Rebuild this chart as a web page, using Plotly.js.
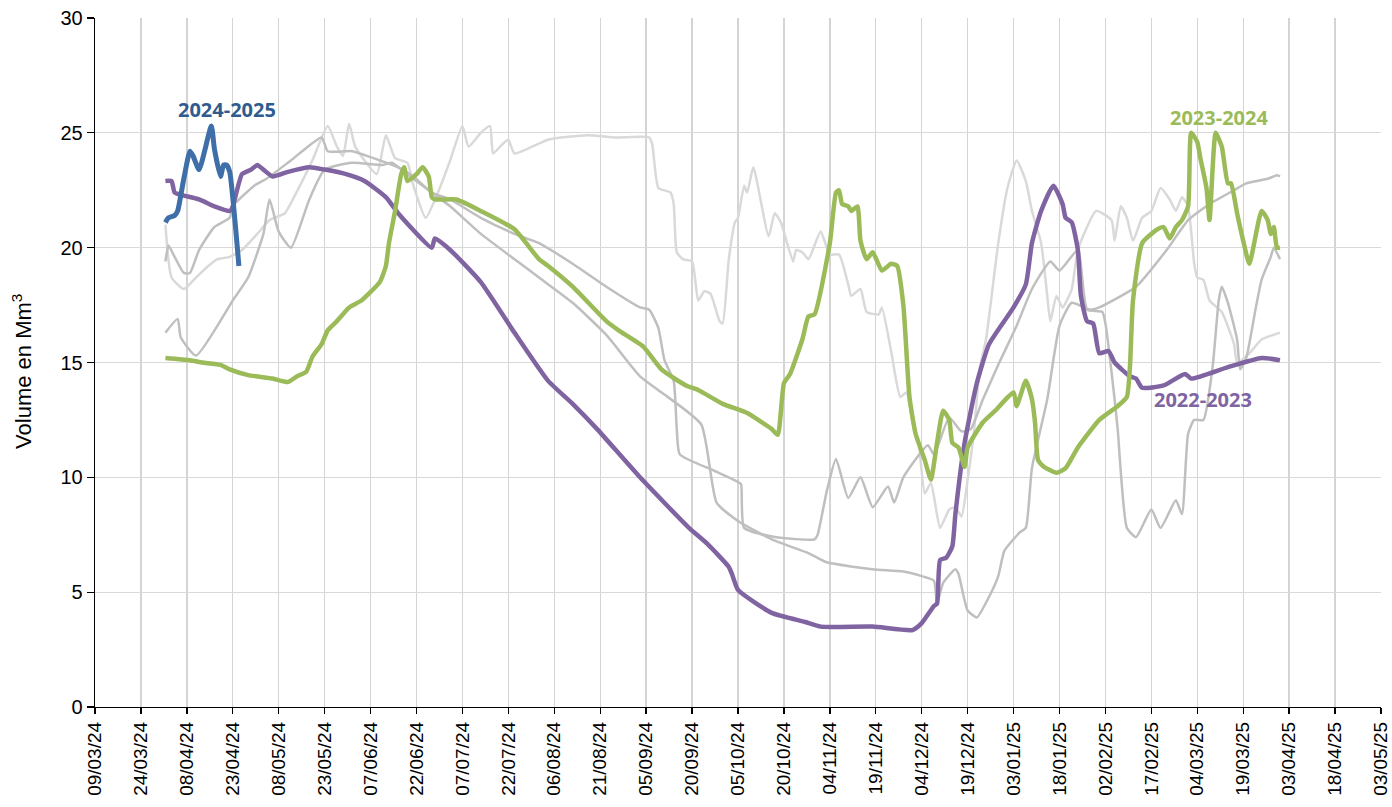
<!DOCTYPE html>
<html>
<head>
<meta charset="utf-8">
<script src="https://cdn.plot.ly/plotly-3.0.1.min.js"></script>
<style>html,body{margin:0;padding:0;background:#fff;}#chart{width:1392px;height:807px;}</style>
</head>
<body>
<div id="chart"></div>
<script>
// ---- Data (volume in Mm3) ----
const s2425_x = ['2024-04-01','2024-04-02','2024-04-04','2024-04-05','2024-04-07','2024-04-09','2024-04-10','2024-04-12','2024-04-16','2024-04-17','2024-04-19','2024-04-20','2024-04-21','2024-04-22','2024-04-25'];
const s2425_y = [21.1,21.3,21.4,21.6,23.0,24.2,24.0,23.4,25.3,24.3,23.1,23.6,23.6,23.3,19.2];

const s2324_x = ['2024-04-01','2024-04-09','2024-04-13','2024-04-19','2024-04-22','2024-04-28','2024-05-06','2024-05-11','2024-05-14','2024-05-17','2024-05-19','2024-05-22','2024-05-24','2024-05-27','2024-05-31','2024-06-04','2024-06-10','2024-06-12','2024-06-13','2024-06-15','2024-06-17','2024-06-18','2024-06-19','2024-06-22','2024-06-24','2024-06-26','2024-06-27','2024-06-28','2024-07-05','2024-07-13','2024-07-24','2024-08-01','2024-08-04','2024-08-12','2024-08-23','2024-08-27','2024-09-04','2024-09-10','2024-09-18','2024-09-22','2024-09-30','2024-10-08','2024-10-16','2024-10-18','2024-10-20','2024-10-22','2024-10-26','2024-10-28','2024-10-30','2024-11-04','2024-11-06','2024-11-07','2024-11-08','2024-11-10','2024-11-11','2024-11-13','2024-11-14','2024-11-16','2024-11-18','2024-11-21','2024-11-24','2024-11-26','2024-11-28','2024-11-30','2024-12-02','2024-12-05','2024-12-07','2024-12-09','2024-12-11','2024-12-13','2024-12-14','2024-12-16','2024-12-18','2024-12-19','2024-12-24','2024-12-28','2025-01-03','2025-01-04','2025-01-07','2025-01-09','2025-01-10','2025-01-11','2025-01-13','2025-01-17','2025-01-20','2025-01-24','2025-01-31','2025-02-06','2025-02-09','2025-02-10','2025-02-11','2025-02-14','2025-02-19','2025-02-21','2025-02-23','2025-02-25','2025-02-27','2025-03-01','2025-03-02','2025-03-04','2025-03-05','2025-03-07','2025-03-08','2025-03-10','2025-03-12','2025-03-14','2025-03-15','2025-03-17','2025-03-19','2025-03-21','2025-03-25','2025-03-27','2025-03-28','2025-03-29','2025-03-30','2025-03-31'];
const s2324_y = [15.2,15.1,15.0,14.9,14.7,14.45,14.3,14.15,14.4,14.6,15.25,15.8,16.4,16.8,17.4,17.7,18.5,19.2,20.2,21.6,23.2,23.5,22.9,23.2,23.5,23.1,22.2,22.1,22.1,21.6,20.8,19.5,19.2,18.3,16.8,16.4,15.7,14.7,14.0,13.8,13.2,12.8,12.1,11.85,14.1,14.5,16.0,17.0,17.1,20.2,22.4,22.5,21.9,21.8,21.6,21.8,20.3,19.5,19.8,19.0,19.3,19.2,17.5,13.5,11.9,10.75,9.9,11.5,12.9,12.5,11.5,11.3,10.45,11.3,12.4,12.9,13.7,13.1,14.2,13.4,12.4,10.75,10.45,10.2,10.4,11.3,12.5,13.1,13.5,14.8,17.7,20.2,20.8,20.9,20.4,20.9,21.2,21.8,25.0,24.6,23.9,22.6,21.2,25.0,24.4,22.8,22.8,21.5,20.3,19.3,21.6,21.2,20.6,20.9,20.0,20.0];

const s2223_x = ['2024-04-01','2024-04-03','2024-04-04','2024-04-06','2024-04-12','2024-04-17','2024-04-22','2024-04-23','2024-04-26','2024-04-29','2024-05-01','2024-05-03','2024-05-06','2024-05-11','2024-05-18','2024-05-23','2024-05-30','2024-06-05','2024-06-12','2024-06-16','2024-06-27','2024-06-28','2024-07-03','2024-07-13','2024-07-24','2024-08-04','2024-08-12','2024-08-20','2024-09-03','2024-09-19','2024-09-25','2024-10-02','2024-10-03','2024-10-05','2024-10-16','2024-10-27','2024-11-01','2024-11-18','2024-12-01','2024-12-04','2024-12-08','2024-12-09','2024-12-10','2024-12-12','2024-12-14','2024-12-15','2024-12-18','2024-12-22','2024-12-26','2025-01-03','2025-01-07','2025-01-09','2025-01-12','2025-01-16','2025-01-19','2025-01-20','2025-01-22','2025-01-24','2025-01-25','2025-01-27','2025-01-29','2025-01-31','2025-02-03','2025-02-05','2025-02-10','2025-02-12','2025-02-14','2025-02-21','2025-02-28','2025-03-02','2025-03-14','2025-03-25','2025-03-31'];
const s2223_y = [22.9,22.9,22.4,22.3,22.1,21.8,21.6,21.8,23.2,23.4,23.6,23.4,23.1,23.3,23.5,23.4,23.2,22.9,22.2,21.5,20.0,20.4,19.9,18.5,16.3,14.2,13.2,12.1,10.0,7.8,7.1,6.1,5.8,5.1,4.1,3.7,3.5,3.5,3.35,3.65,4.4,4.5,6.4,6.5,7.0,8.4,11.5,14.1,15.8,17.4,18.4,20.2,21.6,22.7,21.9,21.3,21.1,19.9,17.9,16.8,16.7,15.4,15.5,15.0,14.4,14.3,13.9,14.0,14.5,14.3,14.8,15.2,15.1];

// Earlier seasons (grey)
const g1_x = ['2024-04-01','2024-04-02','2024-04-04','2024-04-07','2024-04-09','2024-04-12','2024-04-17','2024-04-22','2024-04-23','2024-04-30','2024-05-04','2024-05-12','2024-05-22','2024-05-24','2024-06-01','2024-06-10','2024-06-16','2024-06-21','2024-06-27','2024-07-03','2024-07-13','2024-07-24','2024-08-01','2024-08-12','2024-08-23','2024-09-03','2024-09-06','2024-09-09','2024-09-11','2024-09-14','2024-09-15','2024-09-16','2024-09-27','2024-10-05','2024-10-06','2024-10-07','2024-10-17','2024-10-30','2024-10-31','2024-11-03','2024-11-06','2024-11-10','2024-11-14','2024-11-18','2024-11-23','2024-11-25','2024-11-28','2024-12-06','2024-12-08','2024-12-13','2024-12-17','2024-12-20','2024-12-24','2024-12-29','2025-01-04','2025-01-09','2025-01-15','2025-01-18','2025-01-24','2025-01-27','2025-02-01','2025-02-02','2025-02-05','2025-02-06','2025-02-09','2025-02-12','2025-02-17','2025-02-20','2025-02-25','2025-02-27','2025-03-01','2025-03-03','2025-03-06','2025-03-09','2025-03-11','2025-03-12','2025-03-14','2025-03-17','2025-03-18','2025-03-20','2025-03-23','2025-03-25','2025-03-28','2025-03-29','2025-03-31'];
const g1_y = [19.4,20.1,19.6,18.9,18.9,19.9,20.9,21.3,21.8,22.7,23.0,23.8,24.8,24.2,24.2,23.8,23.5,23.1,22.4,22.1,21.3,20.6,20.2,19.3,18.3,17.4,17.3,16.5,15.1,14.2,12.1,11.0,10.3,9.8,9.7,7.8,7.4,7.3,7.5,9.4,10.8,9.1,10.0,8.7,9.6,8.9,10.0,11.4,11.0,12.6,12.0,12.1,13.4,14.9,16.6,18.2,19.4,19.0,19.9,17.3,17.2,16.7,13.4,12.1,7.8,7.4,8.6,7.8,9.0,8.4,11.9,12.5,12.5,14.8,17.7,18.3,17.6,16.0,14.7,15.2,17.3,18.6,19.6,20.0,19.5];

const g2_x = ['2024-04-01','2024-04-03','2024-04-07','2024-04-11','2024-04-15','2024-04-18','2024-04-22','2024-04-26','2024-05-01','2024-05-05','2024-05-10','2024-05-13','2024-05-19','2024-05-24','2024-05-27','2024-05-29','2024-05-31','2024-06-02','2024-06-09','2024-06-12','2024-06-15','2024-06-19','2024-06-21','2024-06-25','2024-06-29','2024-07-03','2024-07-07','2024-07-09','2024-07-13','2024-07-16','2024-07-17','2024-07-20','2024-07-22','2024-07-24','2024-08-04','2024-08-17','2024-08-26','2024-09-06','2024-09-07','2024-09-09','2024-09-13','2024-09-14','2024-09-15','2024-09-17','2024-09-20','2024-09-22','2024-09-24','2024-09-26','2024-09-29','2024-09-30','2024-10-02','2024-10-04','2024-10-05','2024-10-07','2024-10-08','2024-10-10','2024-10-15','2024-10-17','2024-10-19','2024-10-23','2024-10-24','2024-10-26','2024-10-28','2024-11-01','2024-11-04','2024-11-07','2024-11-10','2024-11-11','2024-11-14','2024-11-16','2024-11-20','2024-11-21','2024-11-24','2024-11-27','2024-11-29','2024-12-01','2024-12-03','2024-12-05','2024-12-07','2024-12-10','2024-12-13','2024-12-15','2024-12-17','2024-12-19','2024-12-21','2024-12-23','2024-12-25','2024-12-29','2025-01-01','2025-01-04','2025-01-07','2025-01-09','2025-01-12','2025-01-14','2025-01-15','2025-01-17','2025-01-19','2025-01-22','2025-01-24','2025-01-30','2025-02-04','2025-02-05','2025-02-07','2025-02-09','2025-02-11','2025-02-14','2025-02-17','2025-02-20','2025-02-23','2025-02-25','2025-02-27','2025-03-01','2025-03-03','2025-03-04','2025-03-06','2025-03-08','2025-03-12','2025-03-16','2025-03-17','2025-03-21','2025-03-25','2025-03-31'];
const g2_y = [21.0,18.7,18.2,18.7,19.2,19.5,19.6,19.9,20.6,21.2,21.5,22.2,23.8,25.3,24.4,24.0,25.4,24.4,23.2,24.9,23.9,23.7,22.7,21.3,22.4,23.8,25.3,24.4,25.0,25.3,24.1,24.5,24.7,24.1,24.7,24.9,24.8,24.8,24.5,22.6,22.4,21.9,19.8,19.5,19.4,17.7,18.1,18.0,16.8,16.7,19.5,21.1,21.3,22.7,22.4,23.5,20.5,21.5,21.1,19.4,19.9,19.8,19.5,20.7,19.7,19.7,18.4,17.9,18.2,17.2,17.1,17.4,15.5,13.5,13.7,12.4,11.5,9.3,9.75,7.8,8.6,8.7,8.3,9.9,11.9,14.8,16.0,20.2,22.6,23.8,22.9,21.6,20.2,17.9,16.8,17.9,17.4,18.2,19.9,21.6,21.2,20.3,21.8,21.3,20.3,21.3,21.6,22.6,22.1,21.6,22.2,21.8,19.3,18.7,18.6,17.7,17.2,15.8,15.0,15.4,16.0,16.3];

const g3_x = ['2024-04-01','2024-04-05','2024-04-06','2024-04-11','2024-04-23','2024-04-28','2024-05-03','2024-05-05','2024-05-08','2024-05-12','2024-05-18','2024-05-23','2024-06-01','2024-06-11','2024-06-14','2024-06-19','2024-06-27','2024-07-03','2024-07-13','2024-07-24','2024-08-01','2024-08-12','2024-08-23','2024-09-03','2024-09-10','2024-09-23','2024-09-28','2024-10-05','2024-10-16','2024-10-28','2024-11-03','2024-11-18','2024-11-28','2024-12-04','2024-12-08','2024-12-09','2024-12-11','2024-12-15','2024-12-16','2024-12-19','2024-12-22','2024-12-26','2024-12-29','2024-12-31','2025-01-05','2025-01-07','2025-01-09','2025-01-14','2025-01-18','2025-01-22','2025-01-28','2025-01-31','2025-02-12','2025-02-22','2025-03-01','2025-03-08','2025-03-16','2025-03-20','2025-03-27','2025-03-30','2025-03-31'];
const g3_y = [16.3,16.9,16.1,15.3,17.7,18.7,20.6,22.1,20.7,20.0,22.1,23.4,23.7,23.6,23.7,23.2,22.4,21.8,20.6,19.5,18.7,17.6,16.2,14.4,13.7,12.3,8.9,8.1,7.3,6.7,6.3,6.0,5.9,5.7,5.5,4.5,5.4,6.0,5.8,4.2,3.9,4.8,5.7,6.8,7.6,7.8,10.4,13.4,16.6,17.6,17.3,17.4,18.3,19.9,21.2,21.9,22.5,22.8,23.0,23.15,23.1];

// Tick labels on the time axis are dd/mm/yy every 15 days from 09/03/24
const tickStart = '2024-03-09';
const tickStepDays = 15;
const axisEnd = '2025-05-03';

const MEDIUM = '#bfbfbf', LIGHT = '#d9d9d9';
const SM = 0.5;
function grey(x, y, c){ return {x:x, y:y, type:'scatter', mode:'lines', line:{color:c, width:2.5, shape:'spline', smoothing:SM}, hoverinfo:'skip', showlegend:false}; }
const traces = [
  grey(g2_x, g2_y, LIGHT),
  grey(g1_x, g1_y, MEDIUM),
  grey(g3_x, g3_y, MEDIUM),
  {x:s2223_x, y:s2223_y, type:'scatter', mode:'lines', name:'2022-2023', line:{color:'#8064a2', width:4.5, shape:'spline', smoothing:SM}, showlegend:false},
  {x:s2324_x, y:s2324_y, type:'scatter', mode:'lines', name:'2023-2024', line:{color:'#9bbb59', width:4.5, shape:'spline', smoothing:SM}, showlegend:false},
  {x:s2425_x, y:s2425_y, type:'scatter', mode:'lines', name:'2024-2025', line:{color:'#3e6fa8', width:5, shape:'spline', smoothing:SM}, showlegend:false}
];

const lblFont = {family:'Open Sans, Liberation Sans, sans-serif', size:20, weight:700};
const tickCommonX = {type:'date', range:[tickStart, axisEnd], tick0:tickStart, dtick:tickStepDays*86400000};
const layout = {
  width:1392, height:807,
  margin:{l:95, r:11, t:18, b:100},
  paper_bgcolor:'#fff', plot_bgcolor:'#fff',
  font:{family:'Liberation Sans, Arial, sans-serif', color:'#000'},
  showlegend:false,
  xaxis:Object.assign({}, tickCommonX, {
    tickformat:'%d/%m/%y', tickangle:-90, tickfont:{size:19, color:'#000'},
    showgrid:true, gridcolor:'#d4d4d4', gridwidth:1.3,
    showline:true, linecolor:'#000', linewidth:1.3,
    ticks:'outside', ticklen:6, tickcolor:'#000', tickwidth:1.3, zeroline:false
  }),
  xaxis2:Object.assign({}, tickCommonX, {
    overlaying:'x', anchor:'y', side:'bottom', showticklabels:false, showgrid:false, showline:false,
    ticks:'inside', ticklen:6, tickcolor:'#000', tickwidth:1.3, zeroline:false
  }),
  yaxis:{
    range:[0,30], dtick:5, tickfont:{size:20, color:'#000'},
    showgrid:true, gridcolor:'#d9d9d9', gridwidth:1.3,
    showline:true, linecolor:'#000', linewidth:1.3,
    ticks:'outside', ticklen:7, tickcolor:'#000', tickwidth:1.3, zeroline:false
  },
  yaxis2:{
    range:[0,30], dtick:5, overlaying:'y', anchor:'x', side:'left', showticklabels:false, showgrid:false, showline:false,
    ticks:'inside', ticklen:5, tickcolor:'#000', tickwidth:1.3, zeroline:false
  },
  annotations:[
    {xref:'paper', yref:'paper', x:-0.0568, y:0.4877, xanchor:'center', yanchor:'middle', textangle:-90,
     text:'Volume en Mm<sup>3</sup>', showarrow:false, font:{size:22, color:'#000', family:'Liberation Sans, Arial, sans-serif'}},
    {x:'2024-04-21', y:26.0, text:'<b>2024-2025</b>', showarrow:false, font:Object.assign({}, lblFont, {color:'#2f5b8f'})},
    {x:'2025-03-11', y:25.65, text:'<b>2023-2024</b>', showarrow:false, font:Object.assign({}, lblFont, {color:'#9bbb59'})},
    {x:'2025-03-06', y:13.4, text:'<b>2022-2023</b>', showarrow:false, font:Object.assign({}, lblFont, {color:'#8064a2'})}
  ]
};
Plotly.newPlot('chart', traces, layout, {displayModeBar:false, staticPlot:true});
</script>
</body>
</html>
